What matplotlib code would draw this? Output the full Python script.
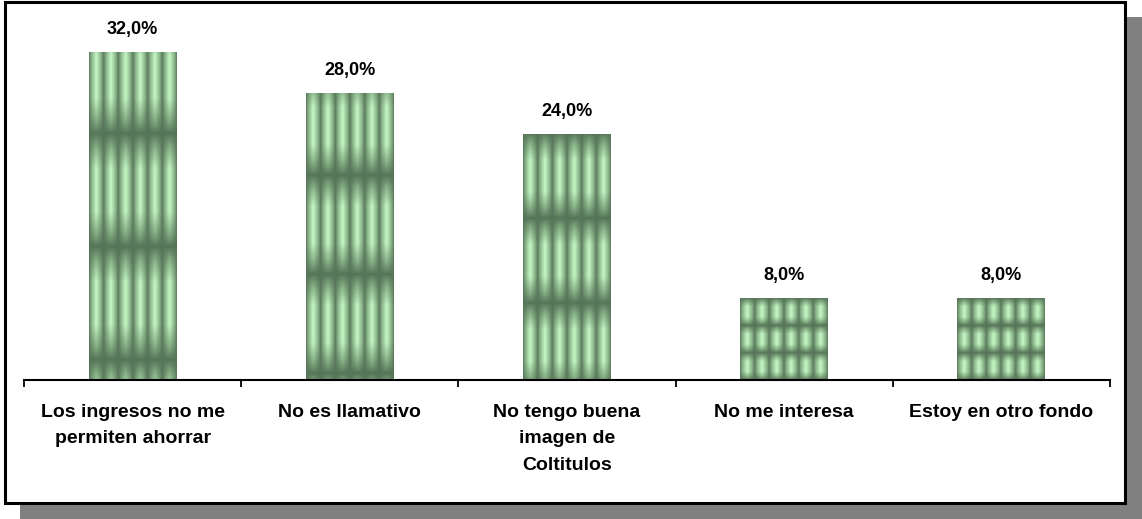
import numpy as np
import matplotlib
matplotlib.use("Agg")
import matplotlib.pyplot as plt
from matplotlib.patches import Rectangle

# ---- data ----
categories = ["Los ingresos no me\npermiten ahorrar", "No es llamativo",
              "No tengo buena\nimagen de\nColtitulos", "No me interesa",
              "Estoy en otro fondo"]
values = [32.0, 28.0, 24.0, 8.0, 8.0]
value_labels = ["32,0%", "28,0%", "24,0%", "8,0%", "8,0%"]

# ---- style ----
W, H = 1142, 519
DPI = 100
plt.rcParams['font.family'] = ['Liberation Sans', 'DejaVu Sans']
tex_rows = [2.9, 2.9, 2.9, 3.0, 3.0]
tex_phase = [0.28, 0.17, 0.01, 0.0, 0.0]

fig = plt.figure(figsize=(W / DPI, H / DPI), dpi=DPI)
fig.patch.set_facecolor("white")

# shadow + framed box
fig.patches.append(Rectangle((20 / W, 0), 1122 / W, 502 / H, transform=fig.transFigure,
                             facecolor="#808080", edgecolor="none", zorder=-3))
fig.patches.append(Rectangle((5 / W, 16 / H), 1120 / W, 501 / H, transform=fig.transFigure,
                             facecolor="white", edgecolor="black", linewidth=2.2, zorder=-2))

ymax = 35.0
ax_bottom = (H - 380) / H
ax_top_px = 380 - ymax * 10.25
ax = fig.add_axes([24 / W, ax_bottom, 1086 / W, (380 - ax_top_px) / H])
ax.set_facecolor("none")
ax.set_zorder(5)

x = np.arange(len(categories))
bars = ax.bar(x, values, width=0.405, color="none", edgecolor="none", zorder=2)

dark = np.array([86, 116, 88]) / 255.0
mid = np.array([128, 168, 128]) / 255.0
light = np.array([198, 248, 198]) / 255.0


def texture(rows, phase, ncols=6, nx=240, ny=600):
    u = (np.arange(nx) + 0.5) / nx
    v = (np.arange(ny) + 0.5) / ny
    cu = (u * ncols) % 1.0
    cv = (v * rows + phase) % 1.0
    dx = 1 - np.abs(2 * cu - 1)
    dy = 1 - np.abs(2 * cv - 1)
    t = (dx[None, :] ** 0.8) * (np.clip(dy[:, None] * 1.6, 0, 1) ** 0.9)
    t = np.clip(t, 0, 1)
    img = np.where(t[..., None] < 0.35,
                   dark + (mid - dark) * (t[..., None] / 0.35),
                   mid + (light - mid) * ((t[..., None] - 0.35) / 0.65))
    return img


for b, rows, ph in zip(bars, tex_rows, tex_phase):
    x0, w, h = b.get_x(), b.get_width(), b.get_height()
    img = texture(rows, ph)
    im = ax.imshow(img, extent=(x0, x0 + w, 0, h), origin="upper",
                   aspect="auto", interpolation="bilinear", zorder=2)
    im.set_clip_path(b)

for b, lab in zip(bars, value_labels):
    ax.annotate(lab, (b.get_x() + b.get_width() / 2, b.get_height()),
                xytext=(0, 10), textcoords="offset points", ha="center", va="bottom",
                fontsize=13, fontweight="bold", color="black")

ax.set_xlim(-0.5, len(categories) - 0.5)
ax.set_ylim(0, ymax)

for s in ["top", "right", "left"]:
    ax.spines[s].set_visible(False)
ax.spines["bottom"].set_linewidth(1.5)
ax.spines["bottom"].set_color("black")
ax.set_yticks([])

ax.set_xticks(np.arange(len(categories) + 1) - 0.5)
ax.set_xticklabels([])
ax.tick_params(axis="x", which="major", direction="out", length=5, width=1.3, color="black")
ax.set_xticks(x, minor=True)
ax.set_xticklabels(categories, minor=True, fontsize=14, fontweight="bold", linespacing=1.75)
ax.tick_params(axis="x", which="minor", length=0, pad=17)

fig.savefig("out.png", dpi=DPI)
